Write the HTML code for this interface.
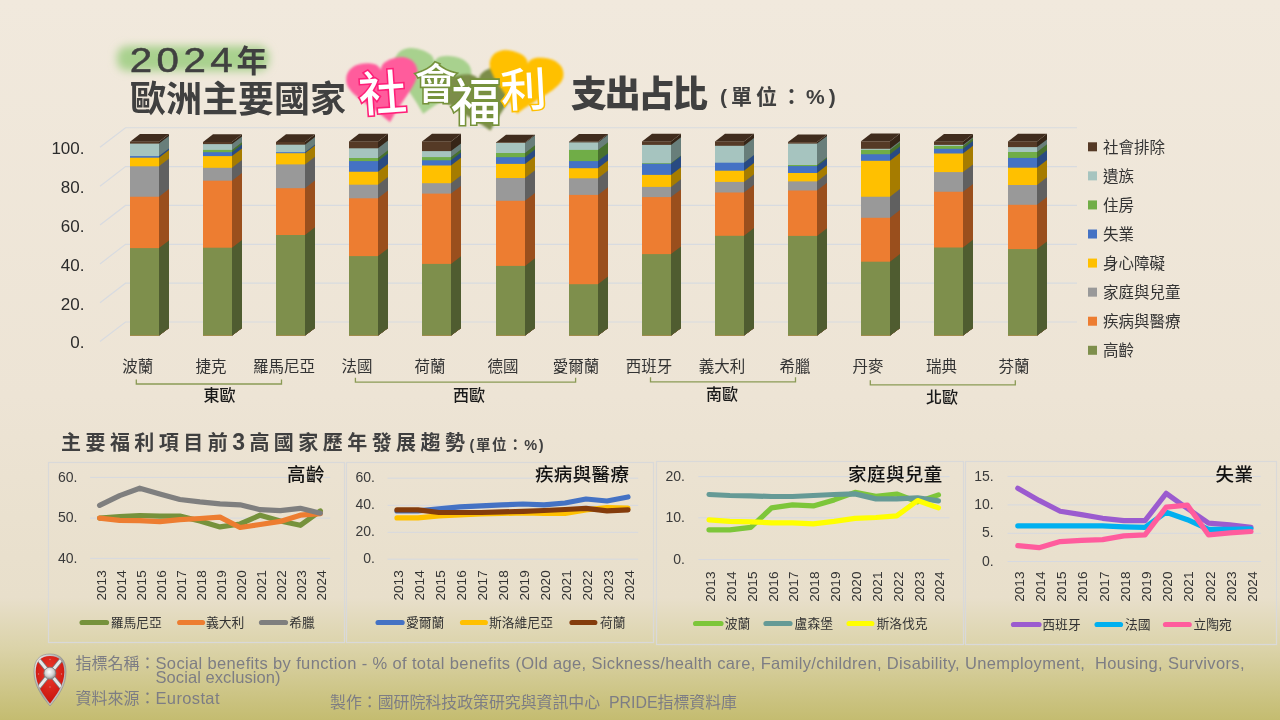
<!DOCTYPE html>
<html lang="zh-Hant"><head><meta charset="utf-8"><title>2024年歐洲主要國家社會福利支出占比</title>
<style>
html,body{margin:0;padding:0;width:1280px;height:720px;overflow:hidden;background:#efe7d9;}
svg{display:block;}
text{font-family:"Liberation Sans","Noto Sans CJK TC",sans-serif;}
.ax{font-size:17px;fill:#2b2b2b;}
.cl{font-size:15.5px;fill:#333;}
.gl{font-size:16px;fill:#1a1a1a;font-weight:500;}
.lg{font-size:15.5px;fill:#333;}
.ax2{font-size:14px;fill:#3a3a3a;}
.yr{font-size:13.6px;fill:#333;}
.lg2{font-size:12.8px;fill:#333;}
.ct{font-size:18.5px;fill:#111;font-weight:500;letter-spacing:0.4px;}
.t1{font-size:36px;fill:#404040;stroke:#404040;stroke-width:0.5;letter-spacing:3.9px;}
.t1b{font-size:31px;fill:#404040;font-weight:700;font-family:'Noto Sans CJK TC',sans-serif;}
.t2{font-size:36px;fill:#404040;font-weight:700;}
.t3{font-size:36px;fill:#404040;font-weight:900;letter-spacing:-2.3px;}
.t4{font-size:21px;fill:#404040;font-weight:700;letter-spacing:4px;}
.hw{fill:#fff;stroke-width:3.2;paint-order:stroke;font-weight:500;font-family:'Noto Sans CJK TC',sans-serif;}
.s2{font-size:20px;fill:#404040;font-weight:700;letter-spacing:4.45px;}
.s2n{font-size:23px;font-weight:700;}
.s2u{font-size:14.5px;letter-spacing:1.6px;}
.ft{font-size:16px;fill:#7d7d84;white-space:pre;}
.fl{font-size:16.5px;}
</style></head>
<body><svg width="1280" height="720" viewBox="0 0 1280 720">
<defs>
<linearGradient id="bg" x1="0" y1="0" x2="0" y2="1"><stop offset="0" stop-color="#f1e9dd"/><stop offset="0.55" stop-color="#ede4d5"/><stop offset="0.83" stop-color="#e8dfcb"/><stop offset="0.90" stop-color="#dbd3a9"/><stop offset="1" stop-color="#c4bc70"/></linearGradient>
<filter id="blur4" x="-30%" y="-60%" width="160%" height="220%"><feGaussianBlur stdDeviation="4"/></filter>
<filter id="blur1" x="-20%" y="-20%" width="140%" height="140%"><feGaussianBlur stdDeviation="0.8"/></filter>
<radialGradient id="shieldRed" cx="0.5" cy="0.35" r="0.7"><stop offset="0" stop-color="#ee3b2c"/><stop offset="1" stop-color="#c40f0a"/></radialGradient>
<radialGradient id="boss" cx="0.45" cy="0.4" r="0.6"><stop offset="0" stop-color="#ffffff"/><stop offset="0.6" stop-color="#d0d0d0"/><stop offset="1" stop-color="#8a8a8a"/></radialGradient>
</defs>
<rect x="0" y="0" width="1280" height="720" fill="url(#bg)"/>
<polyline points="100,341.6 125.5,322 1077,322" fill="none" stroke="#d8dbe0" stroke-width="1.2"/>
<polyline points="100,302.75 125.5,283.15 1077,283.15" fill="none" stroke="#d8dbe0" stroke-width="1.2"/>
<polyline points="100,263.9 125.5,244.3 1077,244.3" fill="none" stroke="#d8dbe0" stroke-width="1.2"/>
<polyline points="100,225.05 125.5,205.45 1077,205.45" fill="none" stroke="#d8dbe0" stroke-width="1.2"/>
<polyline points="100,186.2 125.5,166.6 1077,166.6" fill="none" stroke="#d8dbe0" stroke-width="1.2"/>
<polyline points="100,147.35 125.5,127.75 1077,127.75" fill="none" stroke="#d8dbe0" stroke-width="1.2"/>
<text x="84.5" y="348.4" text-anchor="end" class="ax">0.</text>
<text x="84.5" y="309.55" text-anchor="end" class="ax">20.</text>
<text x="84.5" y="270.7" text-anchor="end" class="ax">40.</text>
<text x="84.5" y="231.85" text-anchor="end" class="ax">60.</text>
<text x="84.5" y="193" text-anchor="end" class="ax">80.</text>
<text x="84.5" y="154.15" text-anchor="end" class="ax">100.</text>
<rect x="130" y="141.75" width="29" height="193.85" fill="#553a26"/>
<polygon points="159,141.75 169,134.05 169,327.9 159,335.6" fill="#362517"/>
<rect x="130" y="143.6" width="29" height="192" fill="#a6c4bf"/>
<polygon points="159,143.6 169,135.9 169,327.9 159,335.6" fill="#687e7a"/>
<rect x="130" y="156.1" width="29" height="179.5" fill="#4472c4"/>
<polygon points="159,156.1 169,148.4 169,327.9 159,335.6" fill="#284a82"/>
<rect x="130" y="157.7" width="29" height="177.9" fill="#ffc000"/>
<polygon points="159,157.7 169,150 169,327.9 159,335.6" fill="#a67c00"/>
<rect x="130" y="166.3" width="29" height="169.3" fill="#999999"/>
<polygon points="159,166.3 169,158.6 169,327.9 159,335.6" fill="#606060"/>
<rect x="130" y="196.75" width="29" height="138.85" fill="#ed7d31"/>
<polygon points="159,196.75 169,189.05 169,327.9 159,335.6" fill="#9a4f1d"/>
<rect x="130" y="248.1" width="29" height="87.5" fill="#7e8f4c"/>
<polygon points="159,248.1 169,240.4 169,327.9 159,335.6" fill="#4f5c30"/>
<polygon points="130,141.75 140,134.05 169,134.05 159,141.75" fill="#402c1d"/>
<rect x="203" y="142" width="29" height="193.6" fill="#553a26"/>
<polygon points="232,142 242,134.3 242,327.9 232,335.6" fill="#362517"/>
<rect x="203" y="144.1" width="29" height="191.5" fill="#a6c4bf"/>
<polygon points="232,144.1 242,136.4 242,327.9 232,335.6" fill="#687e7a"/>
<rect x="203" y="149.9" width="29" height="185.7" fill="#70ad47"/>
<polygon points="232,149.9 242,142.2 242,327.9 232,335.6" fill="#48712d"/>
<rect x="203" y="152.2" width="29" height="183.4" fill="#4472c4"/>
<polygon points="232,152.2 242,144.5 242,327.9 232,335.6" fill="#284a82"/>
<rect x="203" y="156.1" width="29" height="179.5" fill="#ffc000"/>
<polygon points="232,156.1 242,148.4 242,327.9 232,335.6" fill="#a67c00"/>
<rect x="203" y="167.8" width="29" height="167.8" fill="#999999"/>
<polygon points="232,167.8 242,160.1 242,327.9 232,335.6" fill="#606060"/>
<rect x="203" y="180.7" width="29" height="154.9" fill="#ed7d31"/>
<polygon points="232,180.7 242,173 242,327.9 232,335.6" fill="#9a4f1d"/>
<rect x="203" y="247.7" width="29" height="87.9" fill="#7e8f4c"/>
<polygon points="232,247.7 242,240 242,327.9 232,335.6" fill="#4f5c30"/>
<polygon points="203,142 213,134.3 242,134.3 232,142" fill="#402c1d"/>
<rect x="276" y="142" width="29" height="193.6" fill="#553a26"/>
<polygon points="305,142 315,134.3 315,327.9 305,335.6" fill="#362517"/>
<rect x="276" y="144.7" width="29" height="190.9" fill="#a6c4bf"/>
<polygon points="305,144.7 315,137 315,327.9 305,335.6" fill="#687e7a"/>
<rect x="276" y="152.2" width="29" height="183.4" fill="#4472c4"/>
<polygon points="305,152.2 315,144.5 315,327.9 305,335.6" fill="#284a82"/>
<rect x="276" y="153.2" width="29" height="182.4" fill="#ffc000"/>
<polygon points="305,153.2 315,145.5 315,327.9 305,335.6" fill="#a67c00"/>
<rect x="276" y="164.4" width="29" height="171.2" fill="#999999"/>
<polygon points="305,164.4 315,156.7 315,327.9 305,335.6" fill="#606060"/>
<rect x="276" y="188.2" width="29" height="147.4" fill="#ed7d31"/>
<polygon points="305,188.2 315,180.5 315,327.9 305,335.6" fill="#9a4f1d"/>
<rect x="276" y="235" width="29" height="100.6" fill="#7e8f4c"/>
<polygon points="305,235 315,227.3 315,327.9 305,335.6" fill="#4f5c30"/>
<polygon points="276,142 286,134.3 315,134.3 305,142" fill="#402c1d"/>
<rect x="349" y="141.4" width="29" height="194.2" fill="#553a26"/>
<polygon points="378,141.4 388,133.7 388,327.9 378,335.6" fill="#362517"/>
<rect x="349" y="148.3" width="29" height="187.3" fill="#a6c4bf"/>
<polygon points="378,148.3 388,140.6 388,327.9 378,335.6" fill="#687e7a"/>
<rect x="349" y="158" width="29" height="177.6" fill="#70ad47"/>
<polygon points="378,158 388,150.3 388,327.9 378,335.6" fill="#48712d"/>
<rect x="349" y="161.1" width="29" height="174.5" fill="#4472c4"/>
<polygon points="378,161.1 388,153.4 388,327.9 378,335.6" fill="#284a82"/>
<rect x="349" y="171.75" width="29" height="163.85" fill="#ffc000"/>
<polygon points="378,171.75 388,164.05 388,327.9 378,335.6" fill="#a67c00"/>
<rect x="349" y="184.7" width="29" height="150.9" fill="#999999"/>
<polygon points="378,184.7 388,177 388,327.9 378,335.6" fill="#606060"/>
<rect x="349" y="198.3" width="29" height="137.3" fill="#ed7d31"/>
<polygon points="378,198.3 388,190.6 388,327.9 378,335.6" fill="#9a4f1d"/>
<rect x="349" y="256.1" width="29" height="79.5" fill="#7e8f4c"/>
<polygon points="378,256.1 388,248.4 388,327.9 378,335.6" fill="#4f5c30"/>
<polygon points="349,141.4 359,133.7 388,133.7 378,141.4" fill="#402c1d"/>
<rect x="422" y="141.4" width="29" height="194.2" fill="#553a26"/>
<polygon points="451,141.4 461,133.7 461,327.9 451,335.6" fill="#362517"/>
<rect x="422" y="151.1" width="29" height="184.5" fill="#a6c4bf"/>
<polygon points="451,151.1 461,143.4 461,327.9 451,335.6" fill="#687e7a"/>
<rect x="422" y="157.1" width="29" height="178.5" fill="#70ad47"/>
<polygon points="451,157.1 461,149.4 461,327.9 451,335.6" fill="#48712d"/>
<rect x="422" y="160.3" width="29" height="175.3" fill="#4472c4"/>
<polygon points="451,160.3 461,152.6 461,327.9 451,335.6" fill="#284a82"/>
<rect x="422" y="165.5" width="29" height="170.1" fill="#ffc000"/>
<polygon points="451,165.5 461,157.8 461,327.9 451,335.6" fill="#a67c00"/>
<rect x="422" y="183.2" width="29" height="152.4" fill="#999999"/>
<polygon points="451,183.2 461,175.5 461,327.9 451,335.6" fill="#606060"/>
<rect x="422" y="193.6" width="29" height="142" fill="#ed7d31"/>
<polygon points="451,193.6 461,185.9 461,327.9 451,335.6" fill="#9a4f1d"/>
<rect x="422" y="263.9" width="29" height="71.7" fill="#7e8f4c"/>
<polygon points="451,263.9 461,256.2 461,327.9 451,335.6" fill="#4f5c30"/>
<polygon points="422,141.4 432,133.7 461,133.7 451,141.4" fill="#402c1d"/>
<rect x="496" y="142.4" width="29" height="193.2" fill="#553a26"/>
<polygon points="525,142.4 535,134.7 535,327.9 525,335.6" fill="#362517"/>
<rect x="496" y="142.9" width="29" height="192.7" fill="#a6c4bf"/>
<polygon points="525,142.9 535,135.2 535,327.9 525,335.6" fill="#687e7a"/>
<rect x="496" y="153" width="29" height="182.6" fill="#70ad47"/>
<polygon points="525,153 535,145.3 535,327.9 525,335.6" fill="#48712d"/>
<rect x="496" y="157.2" width="29" height="178.4" fill="#4472c4"/>
<polygon points="525,157.2 535,149.5 535,327.9 525,335.6" fill="#284a82"/>
<rect x="496" y="163.9" width="29" height="171.7" fill="#ffc000"/>
<polygon points="525,163.9 535,156.2 535,327.9 525,335.6" fill="#a67c00"/>
<rect x="496" y="178" width="29" height="157.6" fill="#999999"/>
<polygon points="525,178 535,170.3 535,327.9 525,335.6" fill="#606060"/>
<rect x="496" y="200.8" width="29" height="134.8" fill="#ed7d31"/>
<polygon points="525,200.8 535,193.1 535,327.9 525,335.6" fill="#9a4f1d"/>
<rect x="496" y="265.9" width="29" height="69.7" fill="#7e8f4c"/>
<polygon points="525,265.9 535,258.2 535,327.9 525,335.6" fill="#4f5c30"/>
<polygon points="496,142.4 506,134.7 535,134.7 525,142.4" fill="#402c1d"/>
<rect x="569" y="141.75" width="29" height="193.85" fill="#553a26"/>
<polygon points="598,141.75 608,134.05 608,327.9 598,335.6" fill="#362517"/>
<rect x="569" y="142.4" width="29" height="193.2" fill="#a6c4bf"/>
<polygon points="598,142.4 608,134.7 608,327.9 598,335.6" fill="#687e7a"/>
<rect x="569" y="149.9" width="29" height="185.7" fill="#70ad47"/>
<polygon points="598,149.9 608,142.2 608,327.9 598,335.6" fill="#48712d"/>
<rect x="569" y="161.1" width="29" height="174.5" fill="#4472c4"/>
<polygon points="598,161.1 608,153.4 608,327.9 598,335.6" fill="#284a82"/>
<rect x="569" y="168.2" width="29" height="167.4" fill="#ffc000"/>
<polygon points="598,168.2 608,160.5 608,327.9 598,335.6" fill="#a67c00"/>
<rect x="569" y="178.3" width="29" height="157.3" fill="#999999"/>
<polygon points="598,178.3 608,170.6 608,327.9 598,335.6" fill="#606060"/>
<rect x="569" y="194.9" width="29" height="140.7" fill="#ed7d31"/>
<polygon points="598,194.9 608,187.2 608,327.9 598,335.6" fill="#9a4f1d"/>
<rect x="569" y="284.2" width="29" height="51.4" fill="#7e8f4c"/>
<polygon points="598,284.2 608,276.5 608,327.9 598,335.6" fill="#4f5c30"/>
<polygon points="569,141.75 579,134.05 608,134.05 598,141.75" fill="#402c1d"/>
<rect x="642" y="141.4" width="29" height="194.2" fill="#553a26"/>
<polygon points="671,141.4 681,133.7 681,327.9 671,335.6" fill="#362517"/>
<rect x="642" y="144.9" width="29" height="190.7" fill="#a6c4bf"/>
<polygon points="671,144.9 681,137.2 681,327.9 671,335.6" fill="#687e7a"/>
<rect x="642" y="163.2" width="29" height="172.4" fill="#70ad47"/>
<polygon points="671,163.2 681,155.5 681,327.9 671,335.6" fill="#48712d"/>
<rect x="642" y="163.8" width="29" height="171.8" fill="#4472c4"/>
<polygon points="671,163.8 681,156.1 681,327.9 671,335.6" fill="#284a82"/>
<rect x="642" y="174.9" width="29" height="160.7" fill="#ffc000"/>
<polygon points="671,174.9 681,167.2 681,327.9 671,335.6" fill="#a67c00"/>
<rect x="642" y="186.9" width="29" height="148.7" fill="#999999"/>
<polygon points="671,186.9 681,179.2 681,327.9 671,335.6" fill="#606060"/>
<rect x="642" y="197.1" width="29" height="138.5" fill="#ed7d31"/>
<polygon points="671,197.1 681,189.4 681,327.9 671,335.6" fill="#9a4f1d"/>
<rect x="642" y="254.1" width="29" height="81.5" fill="#7e8f4c"/>
<polygon points="671,254.1 681,246.4 681,327.9 671,335.6" fill="#4f5c30"/>
<polygon points="642,141.4 652,133.7 681,133.7 671,141.4" fill="#402c1d"/>
<rect x="715" y="141.4" width="29" height="194.2" fill="#553a26"/>
<polygon points="744,141.4 754,133.7 754,327.9 744,335.6" fill="#362517"/>
<rect x="715" y="145.8" width="29" height="189.8" fill="#a6c4bf"/>
<polygon points="744,145.8 754,138.1 754,327.9 744,335.6" fill="#687e7a"/>
<rect x="715" y="162.7" width="29" height="172.9" fill="#4472c4"/>
<polygon points="744,162.7 754,155 754,327.9 744,335.6" fill="#284a82"/>
<rect x="715" y="170.7" width="29" height="164.9" fill="#ffc000"/>
<polygon points="744,170.7 754,163 754,327.9 744,335.6" fill="#a67c00"/>
<rect x="715" y="181.9" width="29" height="153.7" fill="#999999"/>
<polygon points="744,181.9 754,174.2 754,327.9 744,335.6" fill="#606060"/>
<rect x="715" y="192.5" width="29" height="143.1" fill="#ed7d31"/>
<polygon points="744,192.5 754,184.8 754,327.9 744,335.6" fill="#9a4f1d"/>
<rect x="715" y="235.8" width="29" height="99.8" fill="#7e8f4c"/>
<polygon points="744,235.8 754,228.1 754,327.9 744,335.6" fill="#4f5c30"/>
<polygon points="715,141.4 725,133.7 754,133.7 744,141.4" fill="#402c1d"/>
<rect x="788" y="142.1" width="29" height="193.5" fill="#553a26"/>
<polygon points="817,142.1 827,134.4 827,327.9 817,335.6" fill="#362517"/>
<rect x="788" y="143.6" width="29" height="192" fill="#a6c4bf"/>
<polygon points="817,143.6 827,135.9 827,327.9 817,335.6" fill="#687e7a"/>
<rect x="788" y="165" width="29" height="170.6" fill="#70ad47"/>
<polygon points="817,165 827,157.3 827,327.9 817,335.6" fill="#48712d"/>
<rect x="788" y="166.1" width="29" height="169.5" fill="#4472c4"/>
<polygon points="817,166.1 827,158.4 827,327.9 817,335.6" fill="#284a82"/>
<rect x="788" y="173" width="29" height="162.6" fill="#ffc000"/>
<polygon points="817,173 827,165.3 827,327.9 817,335.6" fill="#a67c00"/>
<rect x="788" y="181.4" width="29" height="154.2" fill="#999999"/>
<polygon points="817,181.4 827,173.7 827,327.9 817,335.6" fill="#606060"/>
<rect x="788" y="190.5" width="29" height="145.1" fill="#ed7d31"/>
<polygon points="817,190.5 827,182.8 827,327.9 817,335.6" fill="#9a4f1d"/>
<rect x="788" y="235.9" width="29" height="99.7" fill="#7e8f4c"/>
<polygon points="817,235.9 827,228.2 827,327.9 817,335.6" fill="#4f5c30"/>
<polygon points="788,142.1 798,134.4 827,134.4 817,142.1" fill="#402c1d"/>
<rect x="861" y="141.3" width="29" height="194.3" fill="#553a26"/>
<polygon points="890,141.3 900,133.6 900,327.9 890,335.6" fill="#362517"/>
<rect x="861" y="148.8" width="29" height="186.8" fill="#a6c4bf"/>
<polygon points="890,148.8 900,141.1 900,327.9 890,335.6" fill="#687e7a"/>
<rect x="861" y="149.9" width="29" height="185.7" fill="#70ad47"/>
<polygon points="890,149.9 900,142.2 900,327.9 890,335.6" fill="#48712d"/>
<rect x="861" y="154.25" width="29" height="181.35" fill="#4472c4"/>
<polygon points="890,154.25 900,146.55 900,327.9 890,335.6" fill="#284a82"/>
<rect x="861" y="160.8" width="29" height="174.8" fill="#ffc000"/>
<polygon points="890,160.8 900,153.1 900,327.9 890,335.6" fill="#a67c00"/>
<rect x="861" y="196.75" width="29" height="138.85" fill="#999999"/>
<polygon points="890,196.75 900,189.05 900,327.9 890,335.6" fill="#606060"/>
<rect x="861" y="217.8" width="29" height="117.8" fill="#ed7d31"/>
<polygon points="890,217.8 900,210.1 900,327.9 890,335.6" fill="#9a4f1d"/>
<rect x="861" y="261.7" width="29" height="73.9" fill="#7e8f4c"/>
<polygon points="890,261.7 900,254 900,327.9 890,335.6" fill="#4f5c30"/>
<polygon points="861,141.3 871,133.6 900,133.6 890,141.3" fill="#402c1d"/>
<rect x="934" y="141.75" width="29" height="193.85" fill="#553a26"/>
<polygon points="963,141.75 973,134.05 973,327.9 963,335.6" fill="#362517"/>
<rect x="934" y="144.9" width="29" height="190.7" fill="#a6c4bf"/>
<polygon points="963,144.9 973,137.2 973,327.9 963,335.6" fill="#687e7a"/>
<rect x="934" y="146" width="29" height="189.6" fill="#70ad47"/>
<polygon points="963,146 973,138.3 973,327.9 963,335.6" fill="#48712d"/>
<rect x="934" y="148.8" width="29" height="186.8" fill="#4472c4"/>
<polygon points="963,148.8 973,141.1 973,327.9 963,335.6" fill="#284a82"/>
<rect x="934" y="153.5" width="29" height="182.1" fill="#ffc000"/>
<polygon points="963,153.5 973,145.8 973,327.9 963,335.6" fill="#a67c00"/>
<rect x="934" y="172.1" width="29" height="163.5" fill="#999999"/>
<polygon points="963,172.1 973,164.4 973,327.9 963,335.6" fill="#606060"/>
<rect x="934" y="191.75" width="29" height="143.85" fill="#ed7d31"/>
<polygon points="963,191.75 973,184.05 973,327.9 963,335.6" fill="#9a4f1d"/>
<rect x="934" y="247.5" width="29" height="88.1" fill="#7e8f4c"/>
<polygon points="963,247.5 973,239.8 973,327.9 963,335.6" fill="#4f5c30"/>
<polygon points="934,141.75 944,134.05 973,134.05 963,141.75" fill="#402c1d"/>
<rect x="1008" y="141.4" width="29" height="194.2" fill="#553a26"/>
<polygon points="1037,141.4 1047,133.7 1047,327.9 1037,335.6" fill="#362517"/>
<rect x="1008" y="147.1" width="29" height="188.5" fill="#a6c4bf"/>
<polygon points="1037,147.1 1047,139.4 1047,327.9 1037,335.6" fill="#687e7a"/>
<rect x="1008" y="152" width="29" height="183.6" fill="#70ad47"/>
<polygon points="1037,152 1047,144.3 1047,327.9 1037,335.6" fill="#48712d"/>
<rect x="1008" y="157.9" width="29" height="177.7" fill="#4472c4"/>
<polygon points="1037,157.9 1047,150.2 1047,327.9 1037,335.6" fill="#284a82"/>
<rect x="1008" y="167.7" width="29" height="167.9" fill="#ffc000"/>
<polygon points="1037,167.7 1047,160 1047,327.9 1037,335.6" fill="#a67c00"/>
<rect x="1008" y="185" width="29" height="150.6" fill="#999999"/>
<polygon points="1037,185 1047,177.3 1047,327.9 1037,335.6" fill="#606060"/>
<rect x="1008" y="204.8" width="29" height="130.8" fill="#ed7d31"/>
<polygon points="1037,204.8 1047,197.1 1047,327.9 1037,335.6" fill="#9a4f1d"/>
<rect x="1008" y="249.1" width="29" height="86.5" fill="#7e8f4c"/>
<polygon points="1037,249.1 1047,241.4 1047,327.9 1037,335.6" fill="#4f5c30"/>
<polygon points="1008,141.4 1018,133.7 1047,133.7 1037,141.4" fill="#402c1d"/>
<text x="137.75" y="372" text-anchor="middle" class="cl">波蘭</text>
<text x="211" y="372" text-anchor="middle" class="cl">捷克</text>
<text x="283.9" y="372" text-anchor="middle" class="cl">羅馬尼亞</text>
<text x="357" y="372" text-anchor="middle" class="cl">法國</text>
<text x="430" y="372" text-anchor="middle" class="cl">荷蘭</text>
<text x="503" y="372" text-anchor="middle" class="cl">德國</text>
<text x="576" y="372" text-anchor="middle" class="cl">愛爾蘭</text>
<text x="649" y="372" text-anchor="middle" class="cl">西班牙</text>
<text x="722" y="372" text-anchor="middle" class="cl">義大利</text>
<text x="795" y="372" text-anchor="middle" class="cl">希臘</text>
<text x="868" y="372" text-anchor="middle" class="cl">丹麥</text>
<text x="941.5" y="372" text-anchor="middle" class="cl">瑞典</text>
<text x="1014" y="372" text-anchor="middle" class="cl">芬蘭</text>
<polyline points="136.3,379.5 136.3,384 281.5,384 281.5,379.5" fill="none" stroke="#8a9a55" stroke-width="1.3"/>
<text x="219.5" y="400.5" text-anchor="middle" class="gl">東歐</text>
<polyline points="355.4,377.7 355.4,382.2 575.6,382.2 575.6,377.7" fill="none" stroke="#8a9a55" stroke-width="1.3"/>
<text x="469" y="401" text-anchor="middle" class="gl">西歐</text>
<polyline points="650.5,377.3 650.5,381.8 795.5,381.8 795.5,377.3" fill="none" stroke="#8a9a55" stroke-width="1.3"/>
<text x="722" y="400" text-anchor="middle" class="gl">南歐</text>
<polyline points="870.3,380.3 870.3,384.8 1015.3,384.8 1015.3,380.3" fill="none" stroke="#8a9a55" stroke-width="1.3"/>
<text x="942" y="403" text-anchor="middle" class="gl">北歐</text>
<rect x="1088" y="142.3" width="9" height="9" fill="#553a26"/>
<text x="1103" y="152.8" class="lg">社會排除</text>
<rect x="1088" y="171.37" width="9" height="9" fill="#a6c4bf"/>
<text x="1103" y="181.87" class="lg">遺族</text>
<rect x="1088" y="200.44" width="9" height="9" fill="#70ad47"/>
<text x="1103" y="210.94" class="lg">住房</text>
<rect x="1088" y="229.51" width="9" height="9" fill="#4472c4"/>
<text x="1103" y="240.01" class="lg">失業</text>
<rect x="1088" y="258.58" width="9" height="9" fill="#ffc000"/>
<text x="1103" y="269.08" class="lg">身心障礙</text>
<rect x="1088" y="287.65" width="9" height="9" fill="#999999"/>
<text x="1103" y="298.15" class="lg">家庭與兒童</text>
<rect x="1088" y="316.72" width="9" height="9" fill="#ed7d31"/>
<text x="1103" y="327.22" class="lg">疾病與醫療</text>
<rect x="1088" y="345.79" width="9" height="9" fill="#7e8f4c"/>
<text x="1103" y="356.29" class="lg">高齡</text>
<rect x="48.5" y="462.5" width="296.0" height="180.0" fill="none" stroke="#d9d9d9" stroke-width="1.2"/>
<rect x="346.5" y="462.5" width="307.0" height="180.0" fill="none" stroke="#d9d9d9" stroke-width="1.2"/>
<rect x="656.5" y="461.5" width="307.0" height="183.0" fill="none" stroke="#d9d9d9" stroke-width="1.2"/>
<rect x="965.5" y="461.5" width="311.0" height="183.0" fill="none" stroke="#d9d9d9" stroke-width="1.2"/>
<line x1="90.1" y1="477.4" x2="330.2" y2="477.4" stroke="#d6d9e0" stroke-width="1"/>
<text x="77.45" y="481.5" text-anchor="end" class="ax2">60.</text>
<line x1="90.1" y1="518.1" x2="330.2" y2="518.1" stroke="#d6d9e0" stroke-width="1"/>
<text x="77.45" y="522.2" text-anchor="end" class="ax2">50.</text>
<line x1="90.1" y1="558.4" x2="330.2" y2="558.4" stroke="#d6d9e0" stroke-width="1"/>
<text x="77.45" y="562.5" text-anchor="end" class="ax2">40.</text>
<text transform="translate(105.6,570.3) rotate(-90)" text-anchor="end" class="yr">2013</text>
<text transform="translate(125.67,570.3) rotate(-90)" text-anchor="end" class="yr">2014</text>
<text transform="translate(145.74,570.3) rotate(-90)" text-anchor="end" class="yr">2015</text>
<text transform="translate(165.81,570.3) rotate(-90)" text-anchor="end" class="yr">2016</text>
<text transform="translate(185.88,570.3) rotate(-90)" text-anchor="end" class="yr">2017</text>
<text transform="translate(205.95,570.3) rotate(-90)" text-anchor="end" class="yr">2018</text>
<text transform="translate(226.02,570.3) rotate(-90)" text-anchor="end" class="yr">2019</text>
<text transform="translate(246.09,570.3) rotate(-90)" text-anchor="end" class="yr">2020</text>
<text transform="translate(266.16,570.3) rotate(-90)" text-anchor="end" class="yr">2021</text>
<text transform="translate(286.23,570.3) rotate(-90)" text-anchor="end" class="yr">2022</text>
<text transform="translate(306.3,570.3) rotate(-90)" text-anchor="end" class="yr">2023</text>
<text transform="translate(326.37,570.3) rotate(-90)" text-anchor="end" class="yr">2024</text>
<polyline points="99.6,518.1 119.67,516.7 139.74,515.5 159.81,516.1 179.88,516.1 199.95,521 220.02,526.9 240.09,524 260.16,515.2 280.23,521 300.3,525.3 320.37,510.9" fill="none" stroke="#76923c" stroke-width="5.2" stroke-linejoin="round" stroke-linecap="round"/>
<polyline points="99.6,518.1 119.67,520.4 139.74,520.6 159.81,521.6 179.88,519.6 199.95,518.5 220.02,517.1 240.09,527.5 260.16,524.5 280.23,521.4 300.3,515.2 320.37,513.6" fill="none" stroke="#ed7d31" stroke-width="5.2" stroke-linejoin="round" stroke-linecap="round"/>
<polyline points="99.6,505.4 119.67,495.6 139.74,488.2 159.81,494 179.88,499.5 199.95,501.9 220.02,503.8 240.09,504.8 260.16,509.7 280.23,510.7 300.3,508.3 320.37,513.2" fill="none" stroke="#7f7f7f" stroke-width="5.2" stroke-linejoin="round" stroke-linecap="round"/>
<line x1="82.1" y1="622.5" x2="106.5" y2="622.5" stroke="#76923c" stroke-width="5.2" stroke-linecap="round"/>
<text x="110.7" y="627.3" class="lg2">羅馬尼亞</text>
<line x1="179.7" y1="622.5" x2="202.5" y2="622.5" stroke="#ed7d31" stroke-width="5.2" stroke-linecap="round"/>
<text x="206" y="627.3" class="lg2">義大利</text>
<line x1="261.5" y1="622.5" x2="285.5" y2="622.5" stroke="#7f7f7f" stroke-width="5.2" stroke-linecap="round"/>
<text x="289.3" y="627.3" class="lg2">希臘</text>
<text x="324.8" y="480.5" text-anchor="end" class="ct">高齡</text>
<line x1="387.5" y1="478.2" x2="638.2" y2="478.2" stroke="#d6d9e0" stroke-width="1"/>
<text x="375.0" y="482.3" text-anchor="end" class="ax2">60.</text>
<line x1="387.5" y1="505.3" x2="638.2" y2="505.3" stroke="#d6d9e0" stroke-width="1"/>
<text x="375.0" y="509.4" text-anchor="end" class="ax2">40.</text>
<line x1="387.5" y1="532.3" x2="638.2" y2="532.3" stroke="#d6d9e0" stroke-width="1"/>
<text x="375.0" y="536.4" text-anchor="end" class="ax2">20.</text>
<line x1="387.5" y1="559.2" x2="638.2" y2="559.2" stroke="#d6d9e0" stroke-width="1"/>
<text x="375.0" y="563.3" text-anchor="end" class="ax2">0.</text>
<text transform="translate(403,570.3) rotate(-90)" text-anchor="end" class="yr">2013</text>
<text transform="translate(424,570.3) rotate(-90)" text-anchor="end" class="yr">2014</text>
<text transform="translate(445,570.3) rotate(-90)" text-anchor="end" class="yr">2015</text>
<text transform="translate(466,570.3) rotate(-90)" text-anchor="end" class="yr">2016</text>
<text transform="translate(487,570.3) rotate(-90)" text-anchor="end" class="yr">2017</text>
<text transform="translate(508,570.3) rotate(-90)" text-anchor="end" class="yr">2018</text>
<text transform="translate(529,570.3) rotate(-90)" text-anchor="end" class="yr">2019</text>
<text transform="translate(550,570.3) rotate(-90)" text-anchor="end" class="yr">2020</text>
<text transform="translate(571,570.3) rotate(-90)" text-anchor="end" class="yr">2021</text>
<text transform="translate(592,570.3) rotate(-90)" text-anchor="end" class="yr">2022</text>
<text transform="translate(613,570.3) rotate(-90)" text-anchor="end" class="yr">2023</text>
<text transform="translate(634,570.3) rotate(-90)" text-anchor="end" class="yr">2024</text>
<polyline points="397,510.9 418,510.9 439,508.9 460,506.9 481,505.9 502,504.9 523,504 544,504.9 565,503 586,499 607,501 628,497" fill="none" stroke="#4472c4" stroke-width="5.2" stroke-linejoin="round" stroke-linecap="round"/>
<polyline points="397,517.9 418,517.9 439,515.9 460,514.9 481,513.9 502,513.5 523,512.9 544,513.5 565,513.5 586,509.9 607,507.5 628,508" fill="none" stroke="#ffc000" stroke-width="5.2" stroke-linejoin="round" stroke-linecap="round"/>
<polyline points="397,509.9 418,509.9 439,512.5 460,512.5 481,512.5 502,511.9 523,511.3 544,510.5 565,509.5 586,508.3 607,510.9 628,509.9" fill="none" stroke="#843c0c" stroke-width="5.2" stroke-linejoin="round" stroke-linecap="round"/>
<line x1="378.1" y1="622.5" x2="402.1" y2="622.5" stroke="#4472c4" stroke-width="5.2" stroke-linecap="round"/>
<text x="406" y="627.3" class="lg2">愛爾蘭</text>
<line x1="462.5" y1="622.5" x2="485.3" y2="622.5" stroke="#ffc000" stroke-width="5.2" stroke-linecap="round"/>
<text x="489" y="627.3" class="lg2">斯洛維尼亞</text>
<line x1="572.0" y1="622.5" x2="594.8" y2="622.5" stroke="#843c0c" stroke-width="5.2" stroke-linecap="round"/>
<text x="600" y="627.3" class="lg2">荷蘭</text>
<text x="629.4" y="480.5" text-anchor="end" class="ct">疾病與醫療</text>
<line x1="698.3" y1="476.6" x2="949.5" y2="476.6" stroke="#d6d9e0" stroke-width="1"/>
<text x="685.0" y="480.7" text-anchor="end" class="ax2">20.</text>
<line x1="698.3" y1="517.8" x2="949.5" y2="517.8" stroke="#d6d9e0" stroke-width="1"/>
<text x="685.0" y="521.9" text-anchor="end" class="ax2">10.</text>
<line x1="698.3" y1="559.6" x2="949.5" y2="559.6" stroke="#d6d9e0" stroke-width="1"/>
<text x="685.0" y="563.7" text-anchor="end" class="ax2">0.</text>
<text transform="translate(715,571.5) rotate(-90)" text-anchor="end" class="yr">2013</text>
<text transform="translate(735.86,571.5) rotate(-90)" text-anchor="end" class="yr">2014</text>
<text transform="translate(756.72,571.5) rotate(-90)" text-anchor="end" class="yr">2015</text>
<text transform="translate(777.58,571.5) rotate(-90)" text-anchor="end" class="yr">2016</text>
<text transform="translate(798.44,571.5) rotate(-90)" text-anchor="end" class="yr">2017</text>
<text transform="translate(819.3,571.5) rotate(-90)" text-anchor="end" class="yr">2018</text>
<text transform="translate(840.16,571.5) rotate(-90)" text-anchor="end" class="yr">2019</text>
<text transform="translate(861.02,571.5) rotate(-90)" text-anchor="end" class="yr">2020</text>
<text transform="translate(881.88,571.5) rotate(-90)" text-anchor="end" class="yr">2021</text>
<text transform="translate(902.74,571.5) rotate(-90)" text-anchor="end" class="yr">2022</text>
<text transform="translate(923.6,571.5) rotate(-90)" text-anchor="end" class="yr">2023</text>
<text transform="translate(944.46,571.5) rotate(-90)" text-anchor="end" class="yr">2024</text>
<polyline points="709,529.8 729.86,529.8 750.72,527.4 771.58,507.9 792.44,504.9 813.3,505.9 834.16,499.9 855.02,492.4 875.88,496.3 896.74,494 917.6,501.9 938.46,494.9" fill="none" stroke="#7dc63a" stroke-width="5.2" stroke-linejoin="round" stroke-linecap="round"/>
<polyline points="709,494.5 729.86,495.5 750.72,495.9 771.58,496.5 792.44,496.5 813.3,495.5 834.16,494.5 855.02,493.9 875.88,498.9 896.74,498.9 917.6,497.9 938.46,500.9" fill="none" stroke="#659a96" stroke-width="5.2" stroke-linejoin="round" stroke-linecap="round"/>
<polyline points="709,519.8 729.86,521.4 750.72,521.8 771.58,522.8 792.44,522.8 813.3,523.8 834.16,521.4 855.02,518.4 875.88,517.5 896.74,515.9 917.6,500.5 938.46,507.9" fill="none" stroke="#ffff00" stroke-width="5.2" stroke-linejoin="round" stroke-linecap="round"/>
<line x1="695.6" y1="623.5" x2="721.0" y2="623.5" stroke="#7dc63a" stroke-width="5.2" stroke-linecap="round"/>
<text x="724.8" y="628.3" class="lg2">波蘭</text>
<line x1="766.0" y1="623.5" x2="790.0" y2="623.5" stroke="#659a96" stroke-width="5.2" stroke-linecap="round"/>
<text x="794.6" y="628.3" class="lg2">盧森堡</text>
<line x1="849.1" y1="623.5" x2="871.8" y2="623.5" stroke="#ffff00" stroke-width="5.2" stroke-linecap="round"/>
<text x="876.4" y="628.3" class="lg2">斯洛伐克</text>
<text x="942.6" y="480.5" text-anchor="end" class="ct">家庭與兒童</text>
<line x1="1007.5" y1="476.4" x2="1260.8" y2="476.4" stroke="#d6d9e0" stroke-width="1"/>
<text x="993.7" y="480.5" text-anchor="end" class="ax2">15.</text>
<line x1="1007.5" y1="504.9" x2="1260.8" y2="504.9" stroke="#d6d9e0" stroke-width="1"/>
<text x="993.7" y="509" text-anchor="end" class="ax2">10.</text>
<line x1="1007.5" y1="533.3" x2="1260.8" y2="533.3" stroke="#d6d9e0" stroke-width="1"/>
<text x="993.7" y="537.4" text-anchor="end" class="ax2">5.</text>
<line x1="1007.5" y1="561.5" x2="1260.8" y2="561.5" stroke="#d6d9e0" stroke-width="1"/>
<text x="993.7" y="565.6" text-anchor="end" class="ax2">0.</text>
<text transform="translate(1023.8,571.5) rotate(-90)" text-anchor="end" class="yr">2013</text>
<text transform="translate(1045,571.5) rotate(-90)" text-anchor="end" class="yr">2014</text>
<text transform="translate(1066.2,571.5) rotate(-90)" text-anchor="end" class="yr">2015</text>
<text transform="translate(1087.4,571.5) rotate(-90)" text-anchor="end" class="yr">2016</text>
<text transform="translate(1108.6,571.5) rotate(-90)" text-anchor="end" class="yr">2017</text>
<text transform="translate(1129.8,571.5) rotate(-90)" text-anchor="end" class="yr">2018</text>
<text transform="translate(1151,571.5) rotate(-90)" text-anchor="end" class="yr">2019</text>
<text transform="translate(1172.2,571.5) rotate(-90)" text-anchor="end" class="yr">2020</text>
<text transform="translate(1193.4,571.5) rotate(-90)" text-anchor="end" class="yr">2021</text>
<text transform="translate(1214.6,571.5) rotate(-90)" text-anchor="end" class="yr">2022</text>
<text transform="translate(1235.8,571.5) rotate(-90)" text-anchor="end" class="yr">2023</text>
<text transform="translate(1257,571.5) rotate(-90)" text-anchor="end" class="yr">2024</text>
<polyline points="1017.8,488.2 1039,500.4 1060.2,511.2 1081.4,514.6 1102.6,518.3 1123.8,520.7 1145,520.7 1166.2,493.3 1187.4,508.5 1208.6,523.1 1229.8,524.8 1251,527.4" fill="none" stroke="#9b5bcf" stroke-width="5.2" stroke-linejoin="round" stroke-linecap="round"/>
<polyline points="1017.8,525.8 1039,525.8 1060.2,525.8 1081.4,525.8 1102.6,525.8 1123.8,526.8 1145,527.4 1166.2,512.2 1187.4,519.7 1208.6,529.4 1229.8,529.4 1251,528.8" fill="none" stroke="#00b0f0" stroke-width="5.2" stroke-linejoin="round" stroke-linecap="round"/>
<polyline points="1017.8,545.7 1039,547.7 1060.2,541.6 1081.4,540.4 1102.6,539.6 1123.8,535.9 1145,534.9 1166.2,507.1 1187.4,505.1 1208.6,534.9 1229.8,532.9 1251,531.5" fill="none" stroke="#ff5c9d" stroke-width="5.2" stroke-linejoin="round" stroke-linecap="round"/>
<line x1="1013.5" y1="624.5" x2="1039.0" y2="624.5" stroke="#9b5bcf" stroke-width="5.2" stroke-linecap="round"/>
<text x="1042.3" y="629.3" class="lg2">西班牙</text>
<line x1="1097.1" y1="624.5" x2="1120.5" y2="624.5" stroke="#00b0f0" stroke-width="5.2" stroke-linecap="round"/>
<text x="1125" y="629.3" class="lg2">法國</text>
<line x1="1165.5" y1="624.5" x2="1189.2" y2="624.5" stroke="#ff5c9d" stroke-width="5.2" stroke-linecap="round"/>
<text x="1193.5" y="629.3" class="lg2">立陶宛</text>
<text x="1253.3" y="480.5" text-anchor="end" class="ct">失業</text>
<rect x="117" y="46" width="152" height="25" rx="10" fill="#a9d18e" filter="url(#blur4)"/>
<text transform="translate(129.8,71.6) scale(1.12,1)" class="t1">2024</text>
<text x="236.5" y="71.6" class="t1b">年</text>
<text x="130" y="112" class="t2">歐洲主要國家</text>
<path d="M0,0 C0,-6.24 7.80,-10.40 19.50,-10.40 C31.20,-10.40 39.00,-4.16 39.00,5.20 C39.00,18.20 17.55,31.20 0,52.00 C-17.55,31.20 -39.00,18.20 -39.00,5.20 C-39.00,-4.16 -31.20,-10.40 -19.50,-10.40 C-7.80,-10.40 0,-6.24 0,0 Z" transform="translate(434,63) rotate(12)" fill="#a8d18e" filter="url(#blur1)"/>
<path d="M0,0 C0,-6.24 7.20,-10.40 18.00,-10.40 C28.80,-10.40 36.00,-4.16 36.00,5.20 C36.00,18.20 16.20,31.20 0,52.00 C-16.20,31.20 -36.00,18.20 -36.00,5.20 C-36.00,-4.16 -28.80,-10.40 -18.00,-10.40 C-7.20,-10.40 0,-6.24 0,0 Z" transform="translate(381,71) rotate(-10)" fill="#ff5c9c" filter="url(#blur1)"/>
<path d="M0,0 C0,-6.12 7.80,-10.20 19.50,-10.20 C31.20,-10.20 39.00,-4.08 39.00,5.10 C39.00,17.85 17.55,30.60 0,51.00 C-17.55,30.60 -39.00,17.85 -39.00,5.10 C-39.00,-4.08 -31.20,-10.20 -19.50,-10.20 C-7.80,-10.20 0,-6.12 0,0 Z" transform="translate(479,81) rotate(-13)" fill="#7b8d4a" filter="url(#blur1)"/>
<path d="M0,0 C0,-6.07 7.50,-10.12 18.75,-10.12 C30.00,-10.12 37.50,-4.05 37.50,5.06 C37.50,17.71 16.88,30.36 0,50.60 C-16.88,30.36 -37.50,17.71 -37.50,5.06 C-37.50,-4.05 -30.00,-10.12 -18.75,-10.12 C-7.50,-10.12 0,-6.07 0,0 Z" transform="translate(527.6,64.4) rotate(12)" fill="#ffc000" filter="url(#blur1)"/>
<text x="382.6" y="110.7" text-anchor="middle" class="hw" stroke="#ff1f78" font-size="48" transform="rotate(-4 382 93)">社</text>
<text x="435.7" y="98.7" text-anchor="middle" class="hw" stroke="#76923c" font-size="42">會</text>
<text x="476" y="119.5" text-anchor="middle" class="hw" stroke="#76923c" font-size="50">福</text>
<text x="523.7" y="106.3" text-anchor="middle" class="hw" stroke="#ffc000" font-size="46" transform="rotate(-3 524 89)">利</text>
<text x="571" y="107" class="t3">支出占比</text>
<text x="720" y="103.5" class="t4">(單位：%)</text>
<text x="61" y="450" class="s2">主要福利項目前<tspan class="s2n">3</tspan>高國家歷年發展趨勢<tspan class="s2u">(單位：%)</tspan></text>
<defs><clipPath id="shc"><path d="M50,656 C59,656 64.3,661 64.3,672 C64.3,685 56,695.5 50,703.6 C44,695.5 35.7,685 35.7,672 C35.7,661 41,656 50,656 Z"/></clipPath><linearGradient id="rim" x1="0" y1="0" x2="1" y2="1"><stop offset="0" stop-color="#f4f4f4"/><stop offset="0.5" stop-color="#a0a0a0"/><stop offset="1" stop-color="#e0e0e0"/></linearGradient></defs>
<path d="M50,654 C60.5,654 66,660 66,672 C66,686.5 57,697.5 50,706 C43,697.5 34,686.5 34,672 C34,660 39.5,654 50,654 Z" fill="url(#rim)" stroke="#8a8a8a" stroke-width="0.6"/>
<path d="M50,656 C59,656 64.3,661 64.3,672 C64.3,685 56,695.5 50,703.6 C44,695.5 35.7,685 35.7,672 C35.7,661 41,656 50,656 Z" fill="url(#shieldRed)"/>
<g clip-path="url(#shc)"><path d="M37,657.5 L63,689.5 M63,657.5 L37,689.5" stroke="#7a7a7a" stroke-width="4.4" fill="none"/><path d="M37,657.5 L63,689.5 M63,657.5 L37,689.5" stroke="#e8e8e8" stroke-width="2.8" fill="none"/></g>
<circle cx="49.9" cy="673.2" r="6" fill="url(#boss)" stroke="#7a7a7a" stroke-width="0.8"/>
<g fill="#d98080"><circle cx="50" cy="659.5" r="0.7"/><circle cx="38.5" cy="674" r="0.7"/><circle cx="61.5" cy="674" r="0.7"/><circle cx="50" cy="687" r="0.7"/></g>
<text x="75.5" y="669" class="ft">指標名稱：</text>
<text x="155.5" y="669" class="ft fl" textLength="1089" lengthAdjust="spacing">Social benefits by function - % of total benefits (Old age, Sickness/health care, Family/children, Disability, Unemployment,  Housing, Survivors,</text>
<text x="155.5" y="683" class="ft fl" textLength="125" lengthAdjust="spacing">Social exclusion)</text>
<text x="75.5" y="704" class="ft">資料來源：</text>
<text x="155.5" y="704" class="ft fl" textLength="64" lengthAdjust="spacing">Eurostat</text>
<text x="330" y="707.5" class="ft" textLength="407" lengthAdjust="spacingAndGlyphs">製作：國研院科技政策研究與資訊中心  PRIDE指標資料庫</text>
</svg></body></html>
